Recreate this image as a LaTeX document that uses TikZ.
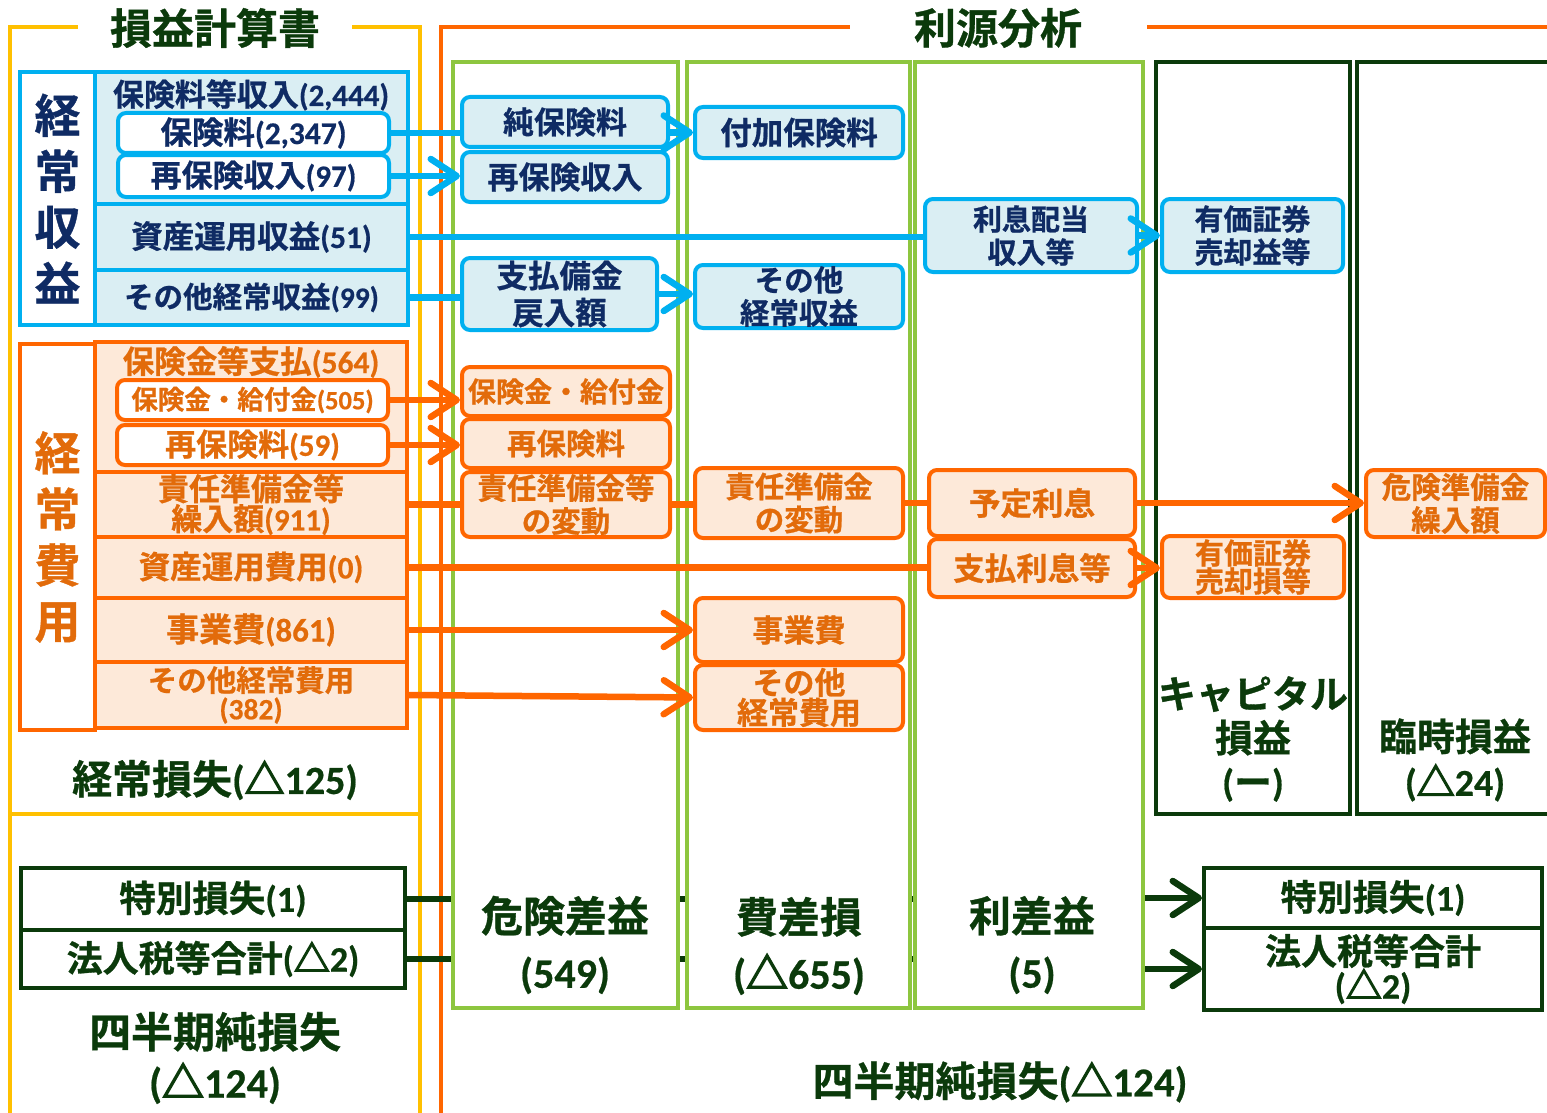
\documentclass[tikz,border=0pt]{standalone}
\usepackage{fontspec}
\setmainfont{Noto Sans CJK JP}[UprightFont={* Bold}, FakeBold=0.8]
\newfontfamily\numf{Carlito}[UprightFont={* Bold}, FakeBold=0.5]
\newfontfamily\trif{Noto Sans CJK JP}[UprightFont={* Bold}, FakeBold=3.5]
\usetikzlibrary{arrows.meta}
\definecolor{cblue}{HTML}{00B0F0}
\definecolor{lblue}{HTML}{DAEEF3}
\definecolor{navy}{HTML}{0F2B64}
\definecolor{corange}{HTML}{FF6600}
\definecolor{lorange}{HTML}{FDE9D9}
\definecolor{torange}{HTML}{E26B0A}
\definecolor{cgreen}{HTML}{8DC63F}
\definecolor{dgreen}{HTML}{0B3A0B}
\definecolor{cyellow}{HTML}{FFC000}
\newcommand\nmb[1]{{\numf #1}}
\newcommand\tri{{\trif △}}
\newcommand\fs[2]{\fontsize{#1}{#2}\selectfont}
\pgfdeclarelayer{bg}
\pgfsetlayers{bg,main}
\begin{document}
\begin{tikzpicture}[x=1pt,y=-1pt,
  brow/.style={draw=cblue, line width=4pt, fill=lblue, text=navy, inner sep=0pt, align=center},
  bwhite/.style={brow, fill=white, rounded corners=8pt},
  bbox/.style={brow, rounded corners=8pt},
  orow/.style={draw=corange, line width=4pt, fill=lorange, text=torange, inner sep=0pt, align=center},
  owhite/.style={orow, fill=white, rounded corners=8pt},
  obox/.style={orow, rounded corners=8pt},
  colbox/.style={draw=cgreen, line width=4pt, fill=white, inner sep=0pt},
  dcolbox/.style={draw=dgreen, line width=4pt, fill=white, inner sep=0pt},
  dbox/.style={draw=dgreen, line width=4pt, fill=white, text=dgreen, inner sep=0pt, align=center},
  lab/.style={text=dgreen, inner sep=0pt, align=center},
  bline/.style={draw=cblue, line width=6.5pt},
  oline/.style={draw=corange, line width=6.5pt},
  dline/.style={draw=dgreen, line width=6.5pt},
  arr/.style={-{Straight Barb[length=26pt,width=34pt,round]}},
  frame/.style={line width=4pt}
]
\useasboundingbox (0,0) rectangle (1547,1113);

% titles
\node[lab, font=\fs{42}{44}] (t1) at (215,28) {損益計算書};
\node[lab, font=\fs{42}{44}] (t2) at (998,28) {利源分析};

% columns
\node[colbox, minimum width=225pt, minimum height=946pt] (c1) at (565.5,535) {};
\node[colbox, minimum width=223pt, minimum height=946pt] (c2) at (798.5,535) {};
\node[colbox, minimum width=228pt, minimum height=946pt] (c3) at (1029,535) {};
\node[dcolbox, minimum width=194pt, minimum height=752pt] (c4) at (1253,438) {};
\node[dcolbox, minimum width=196pt, minimum height=752pt] (c5) at (1455,438) {};

% revenue block
\node[brow, fill=white, minimum width=75pt, minimum height=253pt, font=\fs{46}{56}] (revL) at (57.5,198.5) {経\\常\\収\\益};
\node[brow, minimum width=313pt, minimum height=132pt] (rr1) at (251.5,138) {};
\node[text=navy, inner sep=0pt, font=\fs{31}{32}] (hdr1) at (251,95) {保険料等収入\nmb{(2,444)}};
\node[bwhite, minimum width=271pt, minimum height=40pt, font=\fs{31.5}{32}] (hk) at (253.5,133) {保険料\nmb{(2,347)}};
\node[bwhite, minimum width=271pt, minimum height=42pt, font=\fs{31}{32}] (sk) at (253.5,176) {再保険収入\nmb{(97)}};
\node[brow, minimum width=313pt, minimum height=66pt, font=\fs{31.5}{32}] (rr2) at (251.5,237) {資産運用収益\nmb{(51)}};
\node[brow, minimum width=313pt, minimum height=55pt, font=\fs{29.5}{31}] (rr3) at (251.5,297.5) {その他経常収益\nmb{(99)}};

% blue nodes in columns
\node[bbox, minimum width=206pt, minimum height=50pt, font=\fs{31}{32}] (jun) at (565,122) {純保険料};
\node[bbox, minimum width=206pt, minimum height=50pt, font=\fs{31}{32}] (sai) at (565,177) {再保険収入};
\node[bbox, minimum width=195pt, minimum height=72pt, font=\fs{31.5}{37}] (shi) at (559.5,294) {支払備金\\戻入額};
\node[bbox, minimum width=208pt, minimum height=51pt, font=\fs{31.5}{33}] (fuk) at (799,132.5) {付加保険料};
\node[bbox, minimum width=208pt, minimum height=63pt, font=\fs{29.5}{33}] (son) at (799,296.5) {その他\\経常収益};
\node[bbox, minimum width=212pt, minimum height=73pt, font=\fs{29}{33}] (rid) at (1031,235.5) {利息配当\\収入等};
\node[bbox, minimum width=181pt, minimum height=73pt, font=\fs{29}{33}] (yuk) at (1252.5,235.5) {有価証券\\売却益等};

% cost block
\node[orow, fill=white, minimum width=75pt, minimum height=386pt, font=\fs{46}{56}] (cstL) at (57.5,537) {経\\常\\費\\用};
\node[orow, minimum width=312pt, minimum height=130pt] (cr1) at (251,407) {};
\node[text=torange, inner sep=0pt, font=\fs{31.5}{32}] (hdr2) at (251,362) {保険金等支払\nmb{(564)}};
\node[owhite, minimum width=271pt, minimum height=40pt, font=\fs{26.5}{28}] (hkk) at (252.5,400) {保険金・給付金\nmb{(505)}};
\node[owhite, minimum width=271pt, minimum height=40pt, font=\fs{31}{32}] (skr) at (252.5,445) {再保険料\nmb{(59)}};
\node[orow, minimum width=312pt, minimum height=65pt, font=\fs{31}{30}] (cr2) at (251,504.5) {責任準備金等\\繰入額\nmb{(911)}};
\node[orow, minimum width=312pt, minimum height=61pt, font=\fs{31.5}{32}] (cr3) at (251,567.5) {資産運用費用\nmb{(0)}};
\node[orow, minimum width=312pt, minimum height=64pt, font=\fs{33}{34}] (cr4) at (251,630) {事業費\nmb{(861)}};
\node[orow, minimum width=312pt, minimum height=66pt, font=\fs{29.5}{28}] (cr5) at (251,695) {その他経常費用\\\nmb{(382)}};

% orange nodes in columns
\node[obox, minimum width=208pt, minimum height=49pt, font=\fs{28}{30}] (ohk) at (566,391.5) {保険金・給付金};
\node[obox, minimum width=208pt, minimum height=49pt, font=\fs{29.5}{31}] (osk) at (566,443.5) {再保険料};
\node[obox, minimum width=208pt, minimum height=65pt, font=\fs{29.5}{33}] (osj) at (566,504.5) {責任準備金等\\の変動};
\node[obox, minimum width=208pt, minimum height=70pt, font=\fs{29.5}{33}] (osj2) at (799,503) {責任準備金\\の変動};
\node[obox, minimum width=208pt, minimum height=64pt, font=\fs{31}{32}] (ojg) at (799,630) {事業費};
\node[obox, minimum width=208pt, minimum height=65pt, font=\fs{31}{30}] (osh) at (799,697.5) {その他\\経常費用};
\node[obox, minimum width=206pt, minimum height=66pt, font=\fs{31.5}{33}] (oyt) at (1032,503) {予定利息};
\node[obox, minimum width=206pt, minimum height=58pt, font=\fs{31.5}{33}] (osr) at (1032,568) {支払利息等};
\node[obox, minimum width=182pt, minimum height=62pt, font=\fs{29}{28}] (oyk) at (1253,567) {有価証券\\売却損等};
\node[obox, minimum width=179pt, minimum height=67pt, font=\fs{29.5}{33}] (okj) at (1455.5,503.5) {危険準備金\\繰入額};

% bottom left
\node[lab, font=\fs{40}{40}] (keij) at (215,780) {経常損失\nmb{(}\tri\nmb{125)}};
\node[dbox, minimum width=384pt, minimum height=62pt, font=\fs{36.5}{37}] (ltok) at (213,899) {特別損失\nmb{(1)}};
\node[dbox, minimum width=384pt, minimum height=58pt, font=\fs{36}{37}] (lhoj) at (213,959) {法人税等合計\nmb{(}\tri\nmb{2)}};
\node[lab, font=\fs{42}{50}] (shiL) at (215,1058) {四半期純損失\\\nmb{(}\tri\nmb{124)}};

% bottom right
\node[dbox, minimum width=338pt, minimum height=60pt, font=\fs{36}{37}] (rtok) at (1373,898) {特別損失\nmb{(1)}};
\node[dbox, minimum width=338pt, minimum height=82pt, font=\fs{36}{31}] (rhoj) at (1373,969) {法人税等合計\\\nmb{(}\tri\nmb{2)}};
\node[lab, font=\fs{41}{42}] (shiR) at (1000,1082) {四半期純損失\nmb{(}\tri\nmb{124)}};

% column labels
\node[lab, font=\fs{42}{56}] (l1) at (565,945) {危険差益\\\nmb{(549)}};
\node[lab, font=\fs{42}{56}] (l2) at (799,946) {費差損\\\nmb{(}\tri\nmb{655)}};
\node[lab, font=\fs{42}{56}] (l3) at (1032,945) {利差益\\\nmb{(5)}};
\node[lab, font=\fs{38}{44}] (l4) at (1253,739) {キャピタル\\損益\\\nmb{(}ー\nmb{)}};
\node[lab, font=\fs{38}{45}] (l5) at (1455,760) {臨時損益\\\nmb{(}\tri\nmb{24)}};

% background: frames and hidden dark lines
\begin{pgfonlayer}{bg}
  \draw[cyellow, frame] (10,1116) -- (10,27) -- (78,27);
  \draw[cyellow, frame] (352,27) -- (420,27) -- (420,1116);
  \draw[cyellow, frame] (10,814) -- (420,814);
  \draw[corange, frame] (441,1116) -- (441,27) -- (850,27);
  \draw[corange, frame] (1147,27) -- (1552,27);
  \draw[dline] (ltok.east) -- (ltok.east -| c3.center);
  \draw[dline] (lhoj.east) -- (lhoj.east -| c3.center);
\end{pgfonlayer}

% blue connectors
\draw[bline] (hk.east) -- (hk.east -| jun.west);
\draw[bline, arr] (sk.east) -- (sk.east -| sai.west);
\draw[bline] (rr2.east) -- (rr2.east -| rid.west);
\draw[bline] (rr3.east) -- (rr3.east -| shi.west);
\draw[bline, arr] (fuk.west -| jun.east) -- (fuk.west);
\draw[bline, arr] (shi.east) -- (shi.east -| son.west);
\draw[bline, arr] (rid.east) -- (rid.east -| yuk.west);

% orange connectors
\draw[oline, arr] (hkk.east) -- (hkk.east -| ohk.west);
\draw[oline, arr] (skr.east) -- (skr.east -| osk.west);
\draw[oline] (cr2.east) -- (cr2.east -| osj.west);
\draw[oline] (osj.east) -- (osj.east -| osj2.west);
\draw[oline] (osj2.east) -- (osj2.east -| oyt.west);
\draw[oline, arr] (oyt.east) -- (oyt.east -| okj.west);
\draw[oline] (cr3.east) -- (cr3.east -| osr.west);
\draw[oline, arr] (osr.east) -- (osr.east -| oyk.west);
\draw[oline, arr] (cr4.east) -- (cr4.east -| ojg.west);
\draw[oline, arr] (cr5.east) -- (osh.west);

% dark connectors
\draw[dline, arr] (rtok.west -| c3.east) -- (rtok.west);
\draw[dline, arr] (rhoj.west -| c3.east) -- (rhoj.west);
\end{tikzpicture}
\end{document}
